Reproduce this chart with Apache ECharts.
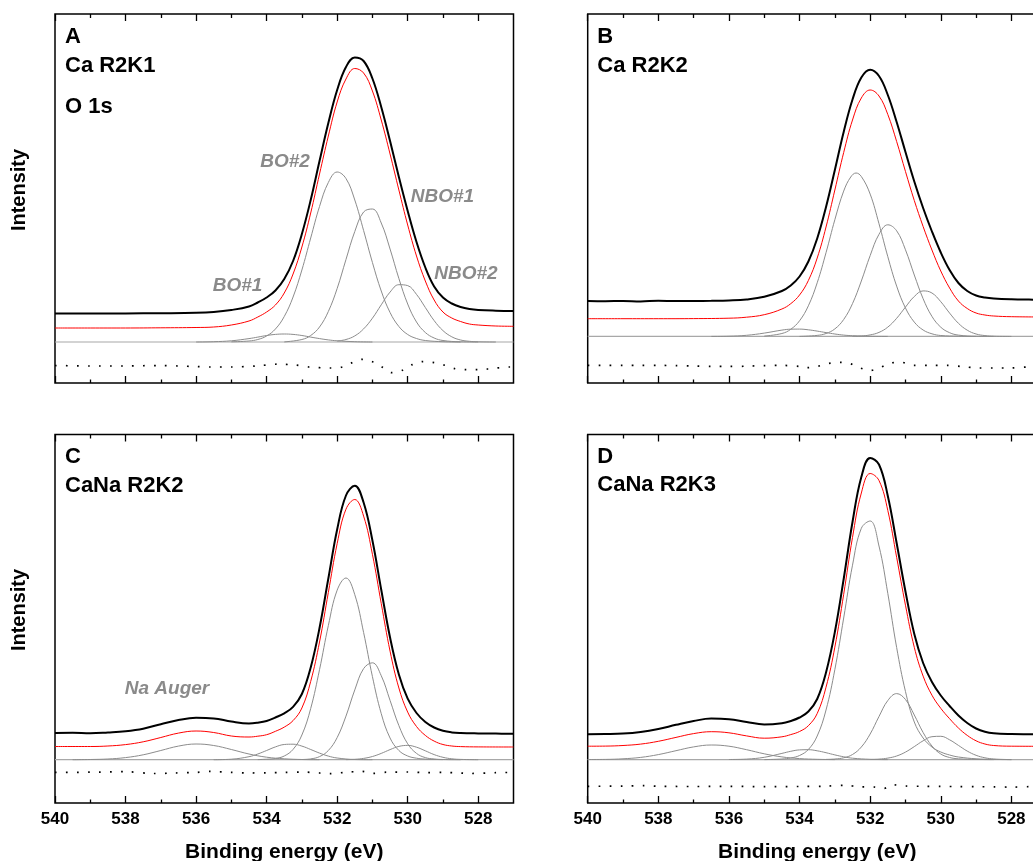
<!DOCTYPE html>
<html><head><meta charset="utf-8">
<script src="https://cdn.jsdelivr.net/npm/echarts@6/dist/echarts.min.js"></script>
<style>html,body{margin:0;padding:0;background:#fff}#chart{width:1033px;height:861px}</style>
</head><body><div id="chart"></div>
<script>
// ---------- tick values (binding energy, eV) ----------
const energyTicks = [540, 538, 536, 534, 532, 530, 528];
const energyMinorTicks = [539, 537, 535, 533, 531, 529];

// ---------- Panel A : Ca R2K1 ----------
const A_exp = [[540,69.5],[539,69.5],[538,69.6],[537,69.8],[536,70.2],[535.5,71],[535,73],[534.5,76.5],[534.25,80.5],[534,85.5],[533.75,92.5],[533.5,104],[533.25,122],[533,149],[532.75,183],[532.5,222],[532.25,260],[532,293],[531.75,316],[531.5,325.5],[531.25,322],[531,304.5],[530.75,276],[530.5,242],[530.25,206],[530,172],[529.75,141],[529.5,115.5],[529.25,96.5],[529,85.5],[528.75,79.5],[528.5,76],[528.25,74],[528,73],[527.5,72.3],[527,72]];
const A_fit = [[540,55],[539,55],[538,55],[537,55.2],[536,55.5],[535.5,56],[535,58],[534.5,62],[534.25,66],[534,71],[533.75,78],[533.5,90],[533.25,109],[533,136],[532.75,170],[532.5,209],[532.25,247],[532,281],[531.75,304],[531.5,314.5],[531.25,310],[531,292],[530.75,263],[530.5,229],[530.25,193],[530,158],[529.75,127],[529.5,102],[529.25,83],[529,71],[528.75,65],[528.5,61.5],[528.25,59],[528,58],[527.5,57],[527,56.7]];
const A_bo1 = [[536,41],[535.5,41.3],[535,42.2],[534.5,44.4],[534.25,45.9],[534,47.5],[533.75,48.6],[533.5,49],[533.25,48.6],[533,47.5],[532.75,45.9],[532.5,44.4],[532.25,43.1],[532,42.2],[531.5,41.3],[531,41]];
const A_bo2 = [[535,41.2],[534.5,42],[534.25,43.5],[534,47],[533.75,54],[533.5,66.5],[533.25,86],[533,113],[532.75,145],[532.5,176.5],[532.25,200.5],[532,211],[531.75,204.5],[531.5,183],[531.25,152.5],[531,120.5],[530.75,92],[530.5,70.5],[530.25,56.5],[530,48.5],[529.75,44.5],[529.5,42.5],[529,41.3],[528.5,41]];
const A_nbo1 = [[533.5,41.1],[533,43.5],[532.75,47.5],[532.5,56],[532.25,71.5],[532,94.5],[531.75,123.5],[531.5,151.5],[531.25,171],[531,174],[530.75,160],[530.5,134],[530.25,104.5],[530,79],[529.75,61],[529.5,50.5],[529.25,45],[529,42.5],[528.5,41.2],[528,41]];
const A_nbo2 = [[532,41.9],[531.75,43.5],[531.5,47.1],[531.25,54.1],[531,64.8],[530.75,78.2],[530.5,90.9],[530.25,98.3],[530,97.4],[529.75,88.6],[529.5,75.5],[529.25,62.4],[529,52.4],[528.75,46.2],[528.5,43],[528.25,41.7],[528,41.2],[527.5,41]];
const A_base = [[540,41],[527,41]];
const A_resid = [[540,17.5],[539,17],[538,17],[537,17.5],[536.5,17],[536,16.5],[535.6,16],[535,16],[534.3,17],[533.7,18.8],[533.2,18],[532.8,16],[532.2,15],[531.85,16],[531.57,20.4],[531.27,23.7],[530.98,21],[530.7,15.4],[530.46,10.4],[530.15,12.7],[529.87,18.4],[529.57,21.4],[529.25,20.4],[528.95,17.7],[528.67,14.4],[528.34,13.4],[528,13.4],[527.73,14],[527.11,16],[527,16]];

// ---------- Panel B : Ca R2K2 ----------
const B_exp = [[540,82],[539.5,81.8],[539,82.1],[538.5,81.6],[538,82.2],[537.5,81.9],[537,82],[536.5,82.2],[536,82.6],[535.5,83.6],[535,86.2],[534.5,92],[534.25,97.5],[534,106.5],[533.75,121.5],[533.5,144.5],[533.25,176],[533,213],[532.75,251],[532.5,283.5],[532.25,305.5],[532,313.3],[531.75,307],[531.5,288],[531.25,261],[531,231],[530.75,201.5],[530.5,175],[530.25,151.5],[530,130.5],[529.75,113],[529.5,100],[529.25,92],[529,87.5],[528.75,85.5],[528.5,84.5],[528,83.7],[527.5,83.4],[527,83.3]];
const B_fit = [[540,64.3],[539,64.3],[538,64.3],[537,64.4],[536,64.8],[535.5,65.8],[535,68.3],[534.5,74],[534.25,79.3],[534,88],[533.75,102.5],[533.5,125],[533.25,156],[533,193],[532.75,230.5],[532.5,263],[532.25,285],[532,293],[531.75,287],[531.5,268.5],[531.25,241.5],[531,211.5],[530.75,182.5],[530.5,156.5],[530.25,133],[530,112],[529.75,95],[529.5,82],[529.25,74.5],[529,70],[528.75,68],[528.5,67],[528,66.3],[527,66]];
const B_bo1 = [[536.5,46.6],[536,46.8],[535.5,47.7],[535,49.9],[534.5,52.9],[534.25,53.8],[534,53.9],[533.75,53.2],[533.5,51.9],[533.25,50.4],[533,49],[532.75,47.9],[532.5,47.3],[532,46.7],[531.5,46.6]];
const B_bo2 = [[535,46.9],[534.5,49.5],[534.25,53.7],[534,62.2],[533.75,77.2],[533.5,100.2],[533.25,130.3],[533,163.3],[532.75,191.9],[532.55,206],[532.4,210],[532.25,206.5],[532,188.9],[531.75,159.3],[531.5,126.3],[531.25,96.9],[531,75],[530.75,60.9],[530.5,53],[530.25,49.2],[530,47.5],[529.5,46.8],[529,46.6]];
const B_nbo1 = [[534,46.6],[533.5,47.6],[533.25,49.5],[533,54.1],[532.75,63.5],[532.5,79.4],[532.25,102],[532,127.4],[531.75,148.7],[531.5,158.2],[531.25,152.2],[531,133.2],[530.75,108],[530.5,84.3],[530.25,66.6],[530,55.8],[529.75,50.3],[529.5,47.9],[529,46.7],[528.5,46.6]];
const B_nbo2 = [[532.5,46.6],[532.25,47],[532,48.1],[531.75,50.6],[531.5,55.9],[531.25,64.7],[531,75.9],[530.75,86.5],[530.5,92.1],[530.25,90],[530,81.3],[529.75,69.9],[529.5,59.7],[529.25,52.8],[529,49],[528.75,47.4],[528.5,46.8],[528,46.6]];
const B_base = [[540,46.6],[527,46.6]];
const B_resid = [[540,17.6],[539.5,17.6],[539,17.6],[538.5,17.6],[538,17.6],[537.5,17.3],[537,17],[536.5,16.6],[536,16.6],[535.5,16.8],[535,17.4],[534.5,17.6],[534,16.6],[533.79,15.3],[533.5,16.6],[533.18,19.6],[532.85,20.6],[532.56,19.3],[532.28,15],[531.99,12.6],[531.71,15.6],[531.43,20],[531.1,20.6],[530.77,17.6],[530.3,17.6],[529.82,17.6],[529.4,16.5],[528.93,15],[528.5,15],[528.03,15],[527.5,16],[527,16]];

// ---------- Panel C : CaNa R2K2 ----------
const C_exp = [[540,70],[539.5,70.3],[539,69.8],[538.5,70.6],[538,71.8],[537.5,74.3],[537,78.8],[536.5,83],[536,85.2],[535.5,84.6],[535,81.4],[534.5,79.5],[534.25,80.3],[534,82],[533.75,85.5],[533.5,89.7],[533.25,96.2],[533,109],[532.75,135.5],[532.5,175],[532.25,224.5],[532,273.5],[531.75,307.5],[531.5,317.3],[531.25,300.5],[531,262.5],[530.75,213.3],[530.5,165.5],[530.25,128.5],[530,104.3],[529.75,90],[529.5,81],[529.25,75.5],[529,72.2],[528.75,70.6],[528.5,70],[528,69.6],[527.5,69.4],[527,69.3]];
const C_fit = [[540,56.5],[539,56.5],[538.5,57],[538,58.4],[537.5,61.2],[537,65.5],[536.5,69.9],[536,72],[535.5,70.5],[535,67],[534.5,66],[534.25,66.8],[534,68.3],[533.75,71.7],[533.5,75.9],[533.25,82.4],[533,95],[532.75,121.6],[532.5,161],[532.25,210.5],[532,259.3],[531.75,293.8],[531.5,303.5],[531.25,286.9],[531,248.7],[530.75,199.5],[530.5,151.9],[530.25,115],[530,90.9],[529.75,76.5],[529.5,67.6],[529.25,61.9],[529,58.5],[528.75,57],[528.5,56.4],[528,56.1],[527,56]];
const C_auger = [[539.5,43.3],[539,43.5],[538.5,44],[538,45.4],[537.5,48.2],[537,52.5],[536.5,56.9],[536,59],[535.5,57.5],[535,53.5],[534.5,49],[534,45.8],[533.5,44.2],[533,43.5],[532.5,43.3]];
const C_bo1 = [[535.5,43.3],[535,43.8],[534.5,46.3],[534.25,49],[534,52.5],[533.75,56.1],[533.5,58.5],[533.25,58.8],[533,56.9],[532.75,53.5],[532.5,49.9],[532.25,46.9],[532,45],[531.5,43.5],[531,43.3]];
const C_bo2 = [[534.25,43.4],[534,43.8],[533.75,44.5],[533.5,47],[533.25,53.6],[533,68],[532.75,94.5],[532.5,133.3],[532.25,177.4],[532,212.8],[531.75,225],[531.5,208.3],[531.25,170.5],[531,126.4],[530.75,89.4],[530.5,65],[530.25,52.5],[530,47],[529.75,44.8],[529.5,43.9],[529,43.4]];
const C_nbo1 = [[533,43.5],[532.75,44.1],[532.5,46.4],[532.25,52.5],[532,65.4],[531.75,86.9],[531.5,113.1],[531.25,134.4],[531,140.2],[530.75,127.3],[530.5,102.6],[530.25,77.4],[530,59.2],[529.75,49.6],[529.5,45.4],[529.25,44],[529,43.5],[528.5,43.3]];
const C_nbo2 = [[531.75,43.4],[531.5,43.7],[531.25,44.6],[531,46.5],[530.75,49.6],[530.5,53.4],[530.25,56.6],[530,57.6],[529.75,55.8],[529.5,52.2],[529.25,48.4],[529,45.7],[528.75,44.2],[528.5,43.6],[528,43.3]];
const C_base = [[540,43.3],[527,43.3]];
const C_resid = [[540,30.6],[539,30.8],[538,31.3],[537.2,29.5],[536.6,30],[536,30.6],[535.6,31.6],[535,30.6],[534.5,30],[534,30.2],[533.5,30.6],[533,31],[532.5,30],[532.2,29.3],[531.8,30.6],[531.3,31.6],[531,29.6],[530.6,30.8],[530,31],[529.5,30.4],[529,30.6],[528.5,30],[528.24,29.5],[527.5,30.3],[527,30.6]];

// ---------- Panel D : CaNa R2K3 ----------
const D_exp = [[540,68.7],[539.5,68.9],[539,69.4],[538.5,71],[538,74],[537.5,78.2],[537,82],[536.5,84.4],[536,83.8],[535.5,81],[535,78.6],[534.5,79.8],[534.25,82],[534,85.5],[533.75,91.5],[533.5,104],[533.25,130.5],[533,171],[532.75,224],[532.5,281],[532.25,326],[532,345],[531.75,338.5],[531.5,307],[531.25,260],[531,211.5],[530.75,169],[530.5,140],[530.25,121],[530,107.5],[529.75,97],[529.5,87.5],[529.25,80],[529,74.5],[528.75,71.3],[528.5,69.8],[528,69],[527.5,68.8],[527,68.7]];
const D_fit = [[540,56.8],[539.5,56.9],[539,57.5],[538.5,58.9],[538,61.7],[537.5,65.6],[537,69.4],[536.5,71.3],[536,70.2],[535.5,67.1],[535,64.8],[534.5,66.2],[534.25,68.4],[534,71.5],[533.75,77.3],[533.5,89.5],[533.25,115.8],[533,155.9],[532.75,208.7],[532.5,265.6],[532.25,310],[532,329.5],[531.75,322.5],[531.5,292.5],[531.25,245.7],[531,197.8],[530.75,155.7],[530.5,126.9],[530.25,107.8],[530,94.7],[529.75,84.3],[529.5,75],[529.25,67.6],[529,62.2],[528.75,59],[528.5,57.5],[528,56.8],[527,56.7]];
const D_auger = [[540,43.5],[539.5,43.6],[539,44.2],[538.5,45.6],[538,48.4],[537.5,52.3],[537,56.1],[536.5,58],[536,56.8],[535.5,53.3],[535,49.2],[534.5,46.1],[534,44.4],[533.5,43.7],[533,43.4]];
const D_bo1 = [[536,43.5],[535.5,43.9],[535,45.7],[534.5,49.6],[534.25,51.7],[534,53.1],[533.75,53.3],[533.5,52.2],[533.25,50.3],[533,48.1],[532.75,46.2],[532.5,44.8],[532,43.7],[531.5,43.4]];
const D_bo2 = [[535,43.4],[534.5,44],[534.25,45],[534,47.5],[533.75,53.5],[533.5,67],[533.25,93],[533,133.5],[532.75,185],[532.5,237.8],[532.25,274.7],[532,282],[531.75,257],[531.5,209.5],[531.25,155.5],[531,111.5],[530.75,81],[530.5,65],[530.25,56],[530,51],[529.75,48],[529.5,46],[529,44.2],[528.5,43.6],[528,43.4]];
const D_nbo1 = [[533.25,43.6],[533,44],[532.75,45.2],[532.5,48.5],[532.25,56],[532,69],[531.75,86.5],[531.5,102.5],[531.25,109.4],[531,103.5],[530.75,88],[530.5,70.5],[530.25,57],[530,49],[529.75,45.5],[529.5,44.2],[529,43.6],[528.5,43.4]];
const D_nbo2 = [[532,43.5],[531.75,43.9],[531.5,44.9],[531.25,47],[531,50.9],[530.75,56.4],[530.5,62.2],[530.25,66.3],[530,66.7],[529.75,63.2],[529.5,57.6],[529.25,51.9],[529,47.7],[528.75,45.2],[528.5,44],[528.25,43.6],[528,43.4]];
const D_base = [[540,43.4],[527,43.4]];
const D_resid = [[540,16.7],[539,16.9],[538.4,17.4],[538,16.7],[537,16.5],[536,16.7],[535,16.3],[534,16.5],[533.3,16.8],[532.7,17.7],[532.3,16.2],[531.9,16],[531.6,14.7],[531.35,18.2],[531,17],[530.5,16.7],[530,16.6],[529.5,16.4],[529,16.3],[528.5,16.2],[528,15.9],[527.5,16.3],[527,16.4]];

// ---------- layout & styles ----------
const FONT = '"Liberation Sans", Arial, Helvetica, sans-serif';
const panels = [
  {grid:{left:55, top:14, width:458.5, height:369}, labels:false, exp:A_exp, fit:A_fit, comps:[A_bo1,A_bo2,A_nbo1,A_nbo2], base:A_base, resid:A_resid},
  {grid:{left:587.7, top:14, width:459, height:369}, labels:false, exp:B_exp, fit:B_fit, comps:[B_bo1,B_bo2,B_nbo1,B_nbo2], base:B_base, resid:B_resid},
  {grid:{left:55, top:434.5, width:458.5, height:368.5}, labels:true, exp:C_exp, fit:C_fit, comps:[C_auger,C_bo1,C_bo2,C_nbo1,C_nbo2], base:C_base, resid:C_resid},
  {grid:{left:587.7, top:434.5, width:459, height:368.5}, labels:true, exp:D_exp, fit:D_fit, comps:[D_auger,D_bo1,D_bo2,D_nbo1,D_nbo2], base:D_base, resid:D_resid}
];

const grids = [], xAxes = [], yAxes = [], series = [];
const tickStyle = {color:'#000', width:1.3};
panels.forEach((p, i) => {
  grids.push(Object.assign({show:true, borderColor:'#000', borderWidth:1.5, backgroundColor:'transparent', containLabel:false, outerBoundsMode:'none'}, p.grid));
  const base = {gridIndex:i, type:'value', min:527, max:540, inverse:true, splitLine:{show:false}, axisLine:{show:false}, minorTick:{show:false}};
  xAxes.push(Object.assign({}, base, {
    position:'bottom',
    axisTick:{show:true, inside:true, length:7, lineStyle:tickStyle, customValues:energyTicks},
    axisLabel:{show:p.labels, customValues:energyTicks, color:'#000', fontSize:17, fontWeight:'bold', fontFamily:FONT, margin:8, hideOverlap:false},
    name: p.labels ? 'Binding energy (eV)' : '',
    nameLocation:'middle', nameGap:39,
    nameTextStyle:{color:'#000', fontSize:21, fontWeight:'bold', fontFamily:FONT}
  }));
  xAxes.push(Object.assign({}, base, {position:'bottom', axisTick:{show:true, inside:true, length:3.5, lineStyle:tickStyle, customValues:energyMinorTicks}, axisLabel:{show:false}}));
  xAxes.push(Object.assign({}, base, {position:'top', axisTick:{show:true, inside:true, length:7, lineStyle:tickStyle, customValues:energyTicks}, axisLabel:{show:false}}));
  xAxes.push(Object.assign({}, base, {position:'top', axisTick:{show:true, inside:true, length:4, lineStyle:tickStyle, customValues:energyMinorTicks}, axisLabel:{show:false}}));
  yAxes.push({gridIndex:i, type:'value', min:0, max:p.grid.height, show:false});

  const common = {type:'line', xAxisIndex:4*i, yAxisIndex:i, showSymbol:false, symbol:'none', silent:true, animation:false};
  series.push(Object.assign({}, common, {data:p.base, lineStyle:{color:'#a8a8a8', width:1.2}, z:1}));
  p.comps.forEach(c => series.push(Object.assign({}, common, {data:c, smooth:0.4, lineStyle:{color:'#8c8c8c', width:1}, z:2})));
  series.push(Object.assign({}, common, {data:p.fit, smooth:0.4, lineStyle:{color:'#ff0000', width:1}, z:3}));
  series.push(Object.assign({}, common, {data:p.exp, smooth:0.4, lineStyle:{color:'#000', width:2}, z:4}));
  series.push(Object.assign({}, common, {data:p.resid, smooth:0.3, lineStyle:{color:'#000', width:1.7, type:[1.7, 9.3]}, z:4}));
});

function txt(x, y, s, opt) {
  return {type:'text', x:x, y:y, silent:true, z:100, style:Object.assign({text:s, fill:'#000', fontFamily:FONT, fontSize:22, fontWeight:'bold', align:'left', verticalAlign:'middle'}, opt || {})};
}
const grayLbl = {fill:'#8a8a8a', fontSize:19, fontStyle:'italic', align:'center'};
const graphics = [
  txt(65, 36.7, 'A'), txt(65, 65.7, 'Ca R2K1'), txt(65, 106.7, 'O 1s'),
  txt(597.3, 36.7, 'B'), txt(597.3, 65.7, 'Ca R2K2'),
  txt(65, 456.7, 'C'), txt(65, 486, 'CaNa R2K2'),
  txt(597.3, 457.3, 'D'), txt(597.3, 485, 'CaNa R2K3'),
  txt(237.5, 286, 'BO#1', grayLbl), txt(285, 161.7, 'BO#2', grayLbl),
  txt(442.5, 196.7, 'NBO#1', grayLbl), txt(466, 274, 'NBO#2', grayLbl),
  txt(167, 688.3, 'Na Auger', grayLbl),
  Object.assign(txt(19, 190, 'Intensity', {fontSize:20, align:'center'}), {rotation:Math.PI/2}),
  Object.assign(txt(19, 610, 'Intensity', {fontSize:20, align:'center'}), {rotation:Math.PI/2})
];

const chart = echarts.init(document.getElementById('chart'), null, {renderer:'canvas'});
chart.setOption({animation:false, backgroundColor:'#fff', grid:grids, xAxis:xAxes, yAxis:yAxes, series:series, graphic:graphics});
</script></body></html>
